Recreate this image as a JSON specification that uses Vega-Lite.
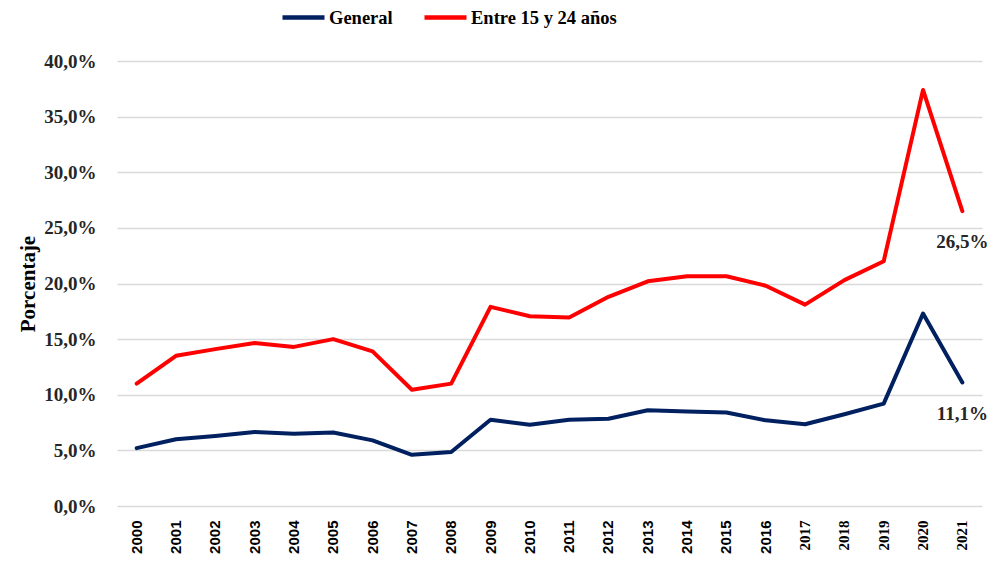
{
  "$schema": "https://vega.github.io/schema/vega-lite/v6.json",
  "autosize": {"type": "none"},
  "width": 865,
  "height": 445,
  "padding": {"left": 117, "top": 61, "right": 12, "bottom": 56},
  "background": "white",
  "config": {"view": {"stroke": null}},
  "data": {"values": [
    {"year": "2000", "serie": "General", "valor": 5.2},
    {"year": "2001", "serie": "General", "valor": 6.0},
    {"year": "2002", "serie": "General", "valor": 6.3},
    {"year": "2003", "serie": "General", "valor": 6.65},
    {"year": "2004", "serie": "General", "valor": 6.5},
    {"year": "2005", "serie": "General", "valor": 6.6},
    {"year": "2006", "serie": "General", "valor": 5.9},
    {"year": "2007", "serie": "General", "valor": 4.6},
    {"year": "2008", "serie": "General", "valor": 4.85},
    {"year": "2009", "serie": "General", "valor": 7.75},
    {"year": "2010", "serie": "General", "valor": 7.3},
    {"year": "2011", "serie": "General", "valor": 7.75},
    {"year": "2012", "serie": "General", "valor": 7.85},
    {"year": "2013", "serie": "General", "valor": 8.6},
    {"year": "2014", "serie": "General", "valor": 8.5},
    {"year": "2015", "serie": "General", "valor": 8.4},
    {"year": "2016", "serie": "General", "valor": 7.7},
    {"year": "2017", "serie": "General", "valor": 7.35},
    {"year": "2018", "serie": "General", "valor": 8.25},
    {"year": "2019", "serie": "General", "valor": 9.2},
    {"year": "2020", "serie": "General", "valor": 17.3},
    {"year": "2021", "serie": "General", "valor": 11.1, "etiqueta": "11,1%"},
    {"year": "2000", "serie": "Entre 15 y 24 años", "valor": 11.0},
    {"year": "2001", "serie": "Entre 15 y 24 años", "valor": 13.5},
    {"year": "2002", "serie": "Entre 15 y 24 años", "valor": 14.1},
    {"year": "2003", "serie": "Entre 15 y 24 años", "valor": 14.65},
    {"year": "2004", "serie": "Entre 15 y 24 años", "valor": 14.3},
    {"year": "2005", "serie": "Entre 15 y 24 años", "valor": 15.0},
    {"year": "2006", "serie": "Entre 15 y 24 años", "valor": 13.9},
    {"year": "2007", "serie": "Entre 15 y 24 años", "valor": 10.45},
    {"year": "2008", "serie": "Entre 15 y 24 años", "valor": 11.0},
    {"year": "2009", "serie": "Entre 15 y 24 años", "valor": 17.9},
    {"year": "2010", "serie": "Entre 15 y 24 años", "valor": 17.05},
    {"year": "2011", "serie": "Entre 15 y 24 años", "valor": 16.95},
    {"year": "2012", "serie": "Entre 15 y 24 años", "valor": 18.8},
    {"year": "2013", "serie": "Entre 15 y 24 años", "valor": 20.2},
    {"year": "2014", "serie": "Entre 15 y 24 años", "valor": 20.65},
    {"year": "2015", "serie": "Entre 15 y 24 años", "valor": 20.65},
    {"year": "2016", "serie": "Entre 15 y 24 años", "valor": 19.8},
    {"year": "2017", "serie": "Entre 15 y 24 años", "valor": 18.1},
    {"year": "2018", "serie": "Entre 15 y 24 años", "valor": 20.3},
    {"year": "2019", "serie": "Entre 15 y 24 años", "valor": 22.0},
    {"year": "2020", "serie": "Entre 15 y 24 años", "valor": 37.4},
    {"year": "2021", "serie": "Entre 15 y 24 años", "valor": 26.5, "etiqueta": "26,5%"}
  ]},
  "encoding": {
    "x": {
      "field": "year", "type": "ordinal",
      "scale": {"type": "band", "paddingInner": 0, "paddingOuter": 0},
      "axis": {
        "title": null, "labelAngle": -90, "labelAlign": "right", "labelBaseline": "middle",
        "labelFont": {"condition": {"test": "toNumber(datum.value) >= 2017", "value": "Liberation Serif"}, "value": "Liberation Sans"},
        "labelFontWeight": "bold", "labelFontSize": 15, "labelColor": "#000000",
        "labelPadding": 14, "ticks": false, "domain": false, "grid": false
      }
    },
    "y": {
      "field": "valor", "type": "quantitative",
      "scale": {"domain": [0, 40], "nice": false},
      "axis": {
        "title": "Porcentaje", "titleFont": "Liberation Serif", "titleFontSize": 21, "titleFontWeight": "bold",
        "titleColor": "#000000", "titlePadding": 5,
        "values": [0, 5, 10, 15, 20, 25, 30, 35, 40],
        "labelExpr": "replace(format(datum.value, '.1f'), '.', ',') + '%'",
        "labelFont": "Liberation Serif", "labelFontSize": 19, "labelFontWeight": "bold", "labelColor": "#262626",
        "labelPadding": 21, "ticks": false, "domain": false,
        "grid": true, "gridColor": "#d9d9d9", "gridWidth": 1.5
      }
    }
  },
  "layer": [
    {
      "mark": {"type": "line", "strokeWidth": 4, "strokeCap": "round", "strokeJoin": "round"},
      "encoding": {
        "color": {
          "field": "serie", "type": "nominal",
          "scale": {"domain": ["General", "Entre 15 y 24 años"], "range": ["#002060", "#ff0000"]},
          "legend": {
            "title": null, "orient": "none", "direction": "horizontal",
            "legendX": 163, "legendY": -67,
            "symbolType": "stroke", "symbolSize": 1764, "symbolStrokeWidth": 4.5,
            "labelFont": "Liberation Serif", "labelFontSize": 18.5, "labelFontWeight": "bold", "labelColor": "#000000",
            "labelOffset": 2, "columnPadding": 22
          }
        }
      }
    },
    {
      "mark": {"type": "text", "font": "Liberation Serif", "fontSize": 19, "fontWeight": "bold", "color": "#262626", "dy": 31, "align": "center"},
      "transform": [{"filter": "datum.etiqueta != null"}],
      "encoding": {"text": {"field": "etiqueta"}}
    }
  ]
}
